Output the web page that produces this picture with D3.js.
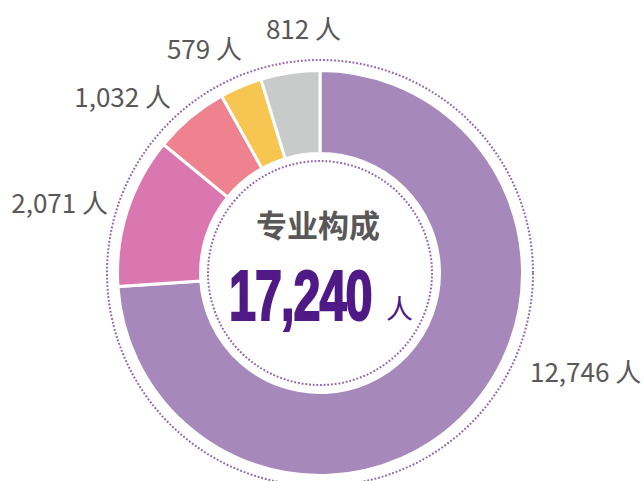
<!DOCTYPE html>
<html><head><meta charset="utf-8">
<script src="https://cdn.jsdelivr.net/npm/d3@7"></script>
<style>body{margin:0;background:#fff;}svg{display:block;}</style>
</head><body>
<svg id="c" width="644" height="481"></svg>
<script>
const categories = ["A", "B", "C", "D", "E"];
const values = [12746, 2071, 1032, 579, 812];
const colors = ["#a688bb", "#db77b0", "#ee838f", "#f6c552", "#c9caca"];
const labels = ["12,746 人", "2,071 人", "1,032 人", "579 人", "812 人"];
const title = "专业构成";
const totalUnit = "人";

const svg = d3.select("#c");
const cx = 320, cy = 273;
const g = svg.append("g").attr("transform", `translate(${cx},${cy})`);

const pie = d3.pie().sort(null).value(d => d);
const arcs = pie(values);
const arc = d3.arc().innerRadius(119.5).outerRadius(202.5);

g.selectAll("path.seg").data(arcs).join("path")
  .attr("class", "seg")
  .attr("d", arc)
  .attr("fill", (d, i) => colors[i])
  .attr("stroke", "#fff")
  .attr("stroke-width", 3)
  .attr("stroke-linejoin", "miter");

// dotted circles
[213, 112].forEach(r => {
  g.append("circle").attr("r", r).attr("fill", "none")
    .attr("stroke", "#9460b3").attr("stroke-width", 2)
    .attr("stroke-dasharray", "1.8 1.9");
});

// labels layout (end/start anchor points relative to centre)
const layout = [
  {x: 210, y: 109, a: "start"},
  {x: -212, y: -60, a: "end"},
  {x: -149, y: -166, a: "end"},
  {x: -78, y: -214, a: "end"},
  {x: 21, y: -234, a: "end"}
];
g.selectAll("text.lab").data(arcs).join("text")
  .attr("class", "lab")
  .attr("x", (d, i) => layout[i].x)
  .attr("y", (d, i) => layout[i].y)
  .attr("text-anchor", (d, i) => layout[i].a)
  .attr("font-family", "'Noto Sans CJK SC', 'Noto Sans', sans-serif")
  .attr("font-size", 26)
  .attr("fill", "#595757")
  .text((d, i) => labels[i]);

// centre text
g.append("text").attr("x", -2).attr("y", -36)
  .attr("text-anchor", "middle")
  .attr("font-family", "'Noto Sans CJK SC', sans-serif")
  .attr("font-weight", "bold").attr("font-size", 31)
  .attr("fill", "#595757").text(title);

const total = d3.sum(values);
g.append("text")
  .attr("transform", "translate(-91,47) scale(0.685,1)")
  .attr("font-family", "'Liberation Sans', Arial, sans-serif")
  .attr("font-weight", "bold").attr("font-size", 71)
  .attr("letter-spacing", -1.5)
  .attr("fill", "#4f1a85").attr("stroke", "#4f1a85").attr("stroke-width", 2.2)
  .text(d3.format(",")(total));

g.append("text").attr("x", 66).attr("y", 46)
  .attr("font-family", "'Noto Sans CJK SC', sans-serif")
  .attr("font-size", 27).attr("fill", "#4f1a85").text(totalUnit);
</script>
</body></html>
